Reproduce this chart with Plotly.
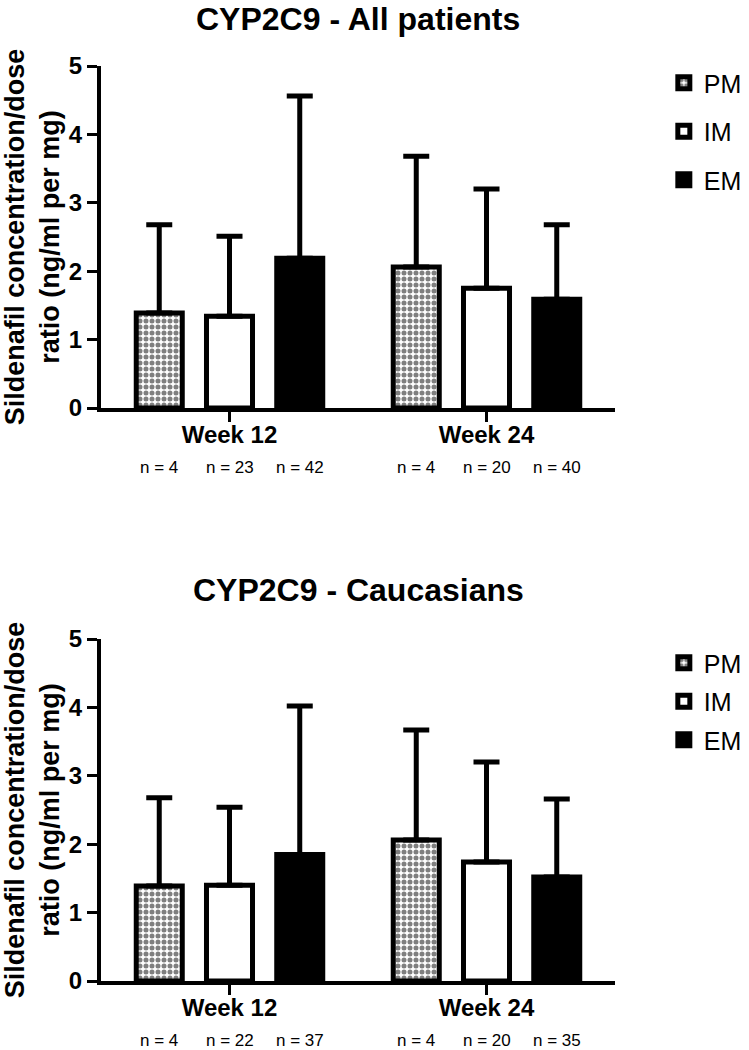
import plotly.graph_objects as go
from plotly.subplots import make_subplots

weeks = ["Week 12", "Week 24"]
groups = ["PM", "IM", "EM"]

# CYP2C9 - All patients
all_mean = {"PM": [1.39, 2.06], "IM": [1.34, 1.75], "EM": [2.19, 1.59]}
all_sd = {"PM": [1.29, 1.62], "IM": [1.17, 1.45], "EM": [2.37, 1.09]}
all_n = {"PM": [4, 4], "IM": [23, 20], "EM": [42, 40]}

# CYP2C9 - Caucasians
cau_mean = {"PM": [1.39, 2.06], "IM": [1.40, 1.74], "EM": [1.85, 1.52]}
cau_sd = {"PM": [1.29, 1.61], "IM": [1.14, 1.46], "EM": [2.17, 1.14]}
cau_n = {"PM": [4, 4], "IM": [22, 20], "EM": [37, 35]}

FONT = "Liberation Sans, Arial, sans-serif"

W, H = 749, 1050


def fy(px):
    # pixel from top -> paper fraction
    return 1 - px / H


styles = {
    "PM": dict(color="white", pattern=dict(shape=".", fgcolor="black", bgcolor="white", size=6, solidity=0.55, fillmode="overlay")),
    "IM": dict(color="white"),
    "EM": dict(color="black"),
}

fig = make_subplots(rows=2, cols=1, vertical_spacing=0.2)

panels = [
    (1, all_mean, all_sd, all_n, "legend"),
    (2, cau_mean, cau_sd, cau_n, "legend2"),
]

bargap = 0.18
for row, means, sds, ns, leg in panels:
    for g in groups:
        fig.add_trace(go.Bar(
            x=weeks, y=means[g], name=g,
            marker=dict(line=dict(color="black", width=5), **styles[g]),
            error_y=dict(type="data", array=sds[g], arrayminus=[0] * len(weeks), symmetric=False,
                         color="black", thickness=5, width=13),
            legend=leg, legendgroup=f"{g}{row}",
            showlegend=True,
        ), row=row, col=1)

    # n labels under each bar
    slot = (1 - bargap) / 3
    sfx = "" if row == 1 else str(row)
    for i, g in enumerate(groups):
        for k, w in enumerate(weeks):
            fig.add_annotation(
                x=k + (i - 1) * slot, y=0, xref=f"x{sfx}", yref=f"y{sfx} domain",
                text=f"n = {ns[g][k]}", showarrow=False, yshift=-59, yanchor="middle",
                font=dict(size=17, color="black", family=FONT),
            )

axis_common = dict(
    showline=True, linewidth=4, linecolor="black", mirror=False,
    ticks="outside", ticklen=10, tickwidth=3, tickcolor="black",
    showgrid=False, zeroline=False,
    tickfont=dict(size=24, color="black", family=FONT, weight="bold"),
)

fig.update_xaxes(**axis_common, type="category", range=[-0.5, 1.5], ticklabelstandoff=-8)
fig.update_yaxes(**axis_common, range=[0, 5], tickvals=[0, 1, 2, 3, 4, 5],
                 title=dict(text="Sildenafil concentration/dose<br>ratio (ng/ml per mg)",
                            font=dict(size=27, color="black", family=FONT, weight="bold"), standoff=10))
fig.update_yaxes(domain=[fy(408), fy(66)], row=1, col=1)
fig.update_yaxes(domain=[fy(981), fy(639)], row=2, col=1)

for txt, ypx in [("CYP2C9 - All patients", 19), ("CYP2C9 - Caucasians", 590)]:
    fig.add_annotation(text=txt, x=0.5, xref="paper", y=fy(ypx), yref="paper", yanchor="middle",
                       showarrow=False, font=dict(size=32, color="black", family=FONT, weight="bold"))

leg_common = dict(
    x=1.095, xanchor="left", yanchor="top", bgcolor="rgba(0,0,0,0)",
    font=dict(size=25, color="black", family=FONT), itemclick=False,
)
fig.update_layout(
    legend=dict(**leg_common, y=fy(60), tracegroupgap=13),
    legend2=dict(**leg_common, y=fy(640), tracegroupgap=3),
    barmode="group", bargap=bargap, bargroupgap=0.345,
    width=W, height=H,
    margin=dict(l=101, r=749 - 615, t=0, b=0, autoexpand=False),
    plot_bgcolor="white", paper_bgcolor="white",
    font=dict(family=FONT, color="black"),
)

# drop the default 8px body margin so the figure fills the window
fig.write_html("out.html", config={"displayModeBar": False},
               post_script="document.body.style.margin = '0';")
